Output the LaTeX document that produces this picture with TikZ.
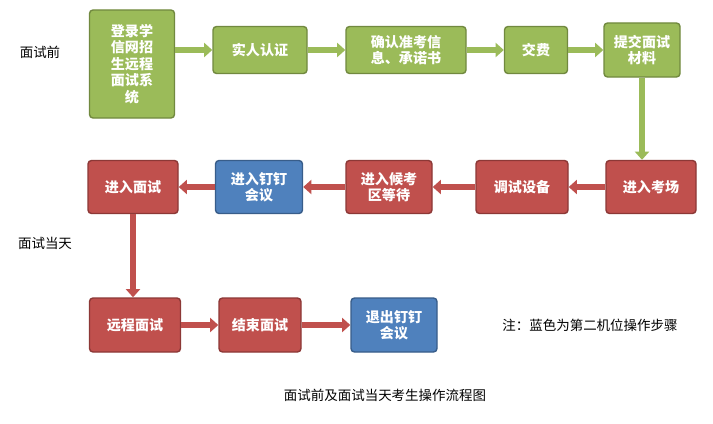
\documentclass[tikz,border=0pt]{standalone}
\usepackage{fontspec}
\setmainfont{Noto Sans CJK SC}
\usetikzlibrary{arrows.meta,positioning}
\tikzset{
  box/.style={rounded corners=3pt,line width=1.2pt,text=white,font=\bfseries\fontsize{12}{14}\selectfont,align=center,inner sep=1pt},
  gbox/.style={box,fill={rgb,255:red,155;green,187;blue,89},draw={rgb,255:red,113;green,137;blue,63}},
  rbox/.style={box,fill={rgb,255:red,192;green,80;blue,77},draw={rgb,255:red,140;green,56;blue,54}},
  bbox/.style={box,fill={rgb,255:red,79;green,129;blue,189},draw={rgb,255:red,56;green,93;blue,138}},
  garr/.style={line width=4.5pt,draw={rgb,255:red,155;green,187;blue,89},-{Triangle[width=12pt,length=7pt]}},
  rarr/.style={line width=4.5pt,draw={rgb,255:red,192;green,80;blue,77},-{Triangle[width=12pt,length=7pt]}},
  lbl/.style={font=\fontsize{11.5}{13}\selectfont},
}
\begin{document}
\begin{tikzpicture}[x=0.03cm,y=-0.03cm]
\useasboundingbox[fill=white] (0,0) rectangle (713,423);
% row before
\node[gbox,minimum height=108*0.03cm,minimum width=85*0.03cm] (login) at (132,64) {登录学\\信网招\\生远程\\面试系\\统};
\node[gbox,minimum width=94*0.03cm,minimum height=47*0.03cm] (auth) at (260,50) {实人认证};
\node[gbox,minimum width=120*0.03cm,minimum height=47*0.03cm] (confirm) at (406,50) {确认准考信\\息、承诺书};
\node[gbox,minimum width=63*0.03cm,minimum height=47*0.03cm] (pay) at (536,50) {交费};
\node[gbox,minimum width=76*0.03cm,minimum height=54*0.03cm] (submit) at (642,50) {提交面试\\材料};
% row day
\node[rbox,minimum width=90*0.03cm,minimum height=53*0.03cm] (site) at (651,187) {进入考场};
\node[rbox,minimum width=92*0.03cm,minimum height=53*0.03cm] (debug) at (522,187) {调试设备};
\node[rbox,minimum width=86*0.03cm,minimum height=53*0.03cm] (wait) at (389,187) {进入候考\\区等待};
\node[bbox,minimum width=87*0.03cm,minimum height=53*0.03cm] (meet) at (259,187) {进入钉钉\\会议};
\node[rbox,minimum width=90*0.03cm,minimum height=53*0.03cm] (enter) at (133,187) {进入面试};
\node[rbox,minimum width=91*0.03cm,minimum height=54*0.03cm] (remote) at (135,325) {远程面试};
\node[rbox,minimum width=82*0.03cm,minimum height=54*0.03cm] (finish) at (260,325) {结束面试};
\node[bbox,minimum width=86*0.03cm,minimum height=54*0.03cm] (quit) at (394,325) {退出钉钉\\会议};
% arrows
\draw[garr] (login.east |- auth) -- (auth);
\draw[garr] (auth) -- (confirm);
\draw[garr] (confirm) -- (pay);
\draw[garr] (pay) -- (submit);
\draw[garr] (submit) -- (submit |- site.north);
\draw[rarr] (site) -- (debug);
\draw[rarr] (debug) -- (wait);
\draw[rarr] (wait) -- (meet);
\draw[rarr] (meet) -- (enter);
\draw[rarr] (enter) -- (enter |- remote.north);
\draw[rarr] (remote) -- (finish);
\draw[rarr] (finish) -- (quit);
% labels
\node[lbl] (before) at (40,52) {面试前};
\node[lbl] (day) at (45,243) {面试当天};
\node[lbl] (note) at (590,325) {注：蓝色为第二机位操作步骤};
\node[lbl] (caption) at (385,395) {面试前及面试当天考生操作流程图};
\end{tikzpicture}
\end{document}
